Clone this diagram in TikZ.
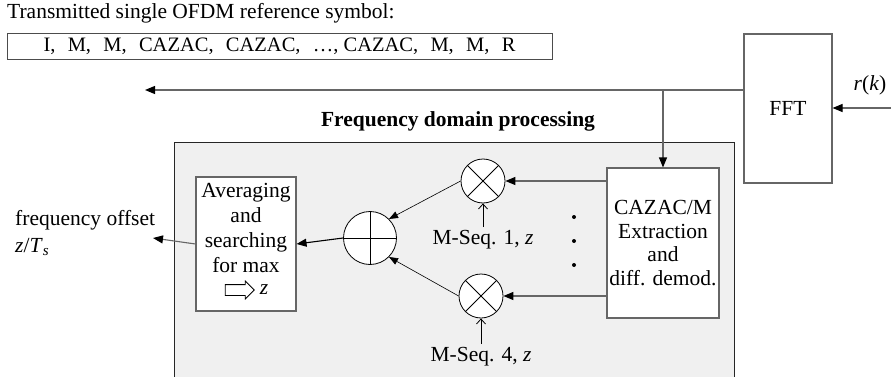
\documentclass[tikz,border=0pt]{standalone}
\usepackage{fontspec}
\setmainfont{Liberation Serif}
\usetikzlibrary{arrows.meta}
\usetikzlibrary{shapes.arrows}
\usetikzlibrary{positioning}

\newcommand{\symgap}{\hspace{0.6em}}

\tikzset{
  blk/.style={draw=black!60, line width=1.1pt, fill=white, align=center, inner sep=2pt},
  procbox/.style={draw=black!85, line width=1pt, fill=black!6},
  mult/.style={circle, draw=black, line width=0.8pt, fill=white, minimum size=44pt, inner sep=0pt,
    path picture={\draw[line width=0.8pt] (path picture bounding box.north west) -- (path picture bounding box.south east)
      (path picture bounding box.north east) -- (path picture bounding box.south west);}},
  summ/.style={circle, draw=black, line width=0.8pt, fill=white, minimum size=53pt, inner sep=0pt,
    path picture={\draw[line width=0.8pt] (path picture bounding box.north) -- (path picture bounding box.south)
      (path picture bounding box.west) -- (path picture bounding box.east);}},
  sig/.style={draw=black!60, line width=1.1pt, -{Triangle[length=10pt,width=8pt,color=black]}},
  thin/.style={draw=black, line width=0.6pt, -{Triangle[length=9pt,width=7pt]}},
  seqin/.style={draw=black, line width=0.8pt, -{Straight Barb[length=5pt,width=9pt]}}
}

\begin{document}
\begin{tikzpicture}[x=1pt, y=-1pt, every node/.style={font=\fontsize{21.5}{24}\selectfont}]
  \useasboundingbox (0,0) rectangle (891,377);

  % reference symbol
  \node[anchor=west, inner sep=0pt] (title) at (7,13) {Transmitted single OFDM reference symbol:};
  \node[blk, draw=black!70, line width=0.9pt, minimum width=545pt, minimum height=26pt, inner sep=0pt,
    font=\fontsize{20.5}{24}\selectfont] (sym) at (279.5,46)
    {I,\symgap M,\symgap M,\symgap CAZAC,\symgap CAZAC,\symgap \dots, CAZAC,\symgap M,\symgap M,\symgap R};

  % processing block
  \node[anchor=south, inner sep=0pt, font=\fontsize{21.5}{24}\bfseries] (fdp) at (458,131) {Frequency domain processing};
  \node[procbox, anchor=north west, minimum width=560pt, minimum height=260pt] (proc) at (174,142) {};

  \node[blk, minimum width=88pt, minimum height=149pt] (fft) at (788,108.5) {FFT};
  \node (rk) at (870,85) {\textit{r}(\textit{k})};
  \coordinate (rin) at (891,108);

  \node[blk, font=\fontsize{21.5}{23.5}\selectfont, minimum width=112pt, minimum height=150pt] (cazac) at (663,243)
    {CAZAC/M\\Extraction\\and\\diff. demod.};
  \node[mult] (mul1) at (483,181) {};
  \node[mult] (mul2) at (481,296) {};
  \node[summ] (add) at (370,238) {};
  \node[blk, font=\fontsize{21.5}{25}\selectfont, minimum width=100pt, minimum height=134pt] (avg) at (246,244)
    {Averaging\\and\\searching\\for max\\\strut};
  \node[single arrow, draw=black, line width=0.8pt, fill=white, minimum height=29pt, inner xsep=0pt, inner ysep=5pt,
    single arrow head extend=3.5pt] (zarr) at (237,290) {};
  \node[right=5pt of zarr, inner sep=0pt] (zmax) {\textit{z}};

  \node (seq1) at (483,240) {M-Seq. 1, \textit{z}};
  \node (seq4) at (481,357) {M-Seq. 4, \textit{z}};
  \foreach \y in {217,241,265}
    \fill (574,\y) circle (2);

  \node[anchor=west, align=left, inner sep=0pt, font=\fontsize{21.5}{27}\selectfont] (fo) at (15,233)
    {frequency offset\\\textit{z}/\textit{T}\textsubscript{\textit{s}}};
  \coordinate (fout) at (153,238);
  \coordinate (tap) at (663,90);
  \coordinate (back) at (145,90);

  % connectors
  \draw[sig] (rin) -- (fft.east |- rin);
  \draw[sig] (fft.west |- tap) -- (back);
  \draw[sig] (tap) -- (cazac.north);
  \draw[sig] (cazac.west |- mul1) -- (mul1.east);
  \draw[sig] (cazac.west |- mul2) -- (mul2.east);
  \draw[seqin] (seq1.north) -- (mul1.south);
  \draw[seqin] (seq4.north) -- (mul2.south);
  \draw[thin] (mul1.west) -- (add.north east);
  \draw[thin] (mul2.west) -- (add.south east);
  \draw[sig, draw=black] (add.west) -- (avg.east);
  \draw[sig] (avg.west) -- (fout);
\end{tikzpicture}
\end{document}
